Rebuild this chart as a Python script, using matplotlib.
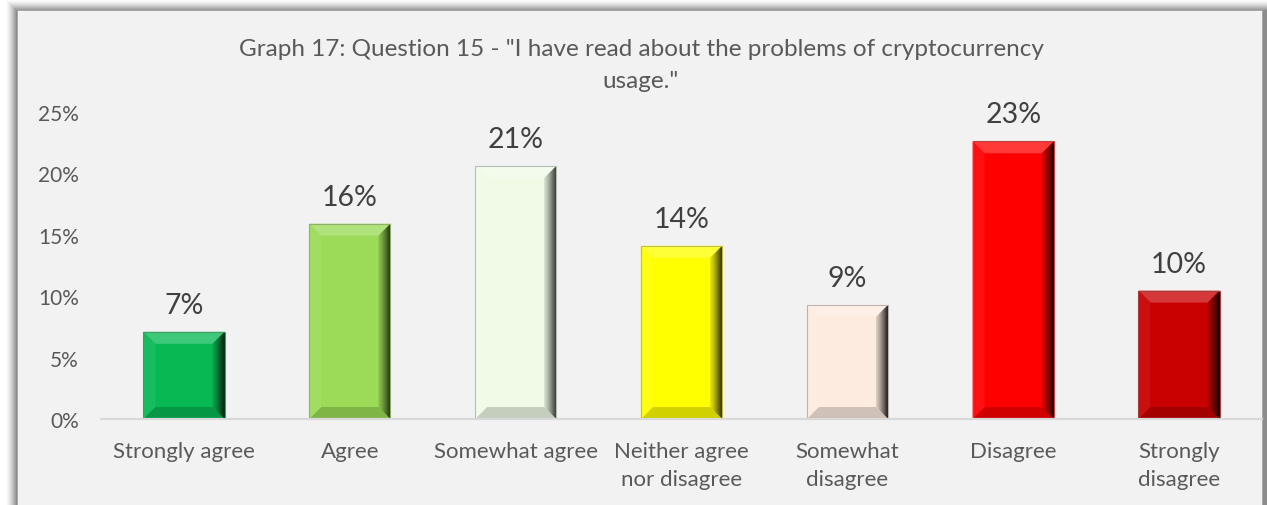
import matplotlib
matplotlib.use("Agg")
import matplotlib.pyplot as plt
import matplotlib.colors as mcolors
from matplotlib.patches import Rectangle, Polygon
import numpy as np

# Survey responses, share of respondents
categories = ["Strongly agree", "Agree", "Somewhat agree", "Neither agree\nnor disagree",
              "Somewhat\ndisagree", "Disagree", "Strongly\ndisagree"]
shares = [0.071, 0.159, 0.206, 0.141, 0.093, 0.226, 0.1045]
bar_colors = ["#07B853", "#9BDB57", "#F0FAE6", "#FFFF00", "#FDEBDF", "#FF0000", "#C80000"]
yticks = [0.00, 0.05, 0.10, 0.15, 0.20, 0.25]
title_lines = ['Graph 17: Question 15 - "I have read about the problems of cryptocurrency',
               'usage."']

W, H = 1267, 506
DPI = 100
plt.rcParams['font.family'] = ['Lato', 'DejaVu Sans']

fig = plt.figure(figsize=(W / DPI, H / DPI), dpi=DPI, facecolor="white")

def px_rect(x0, y0, x1, y1, color, z=0):
    # rectangle given in pixel coordinates measured from the top-left corner
    fig.patches.append(Rectangle((x0 / W, 1 - y1 / H), (x1 - x0) / W, (y1 - y0) / H,
                                 transform=fig.transFigure, facecolor=color,
                                 edgecolor="none", zorder=z))

# soft shadow around the chart frame
for i in range(12):
    t = i / 11
    g = 1 - 0.45 * t ** 1.5
    px_rect(5 + i, 0 + i, 1267, 506, (g, g, g), z=-10 + i * 0.01)
# frame
px_rect(17, 11, 1263, 506, "#A6A6A6", z=-5)
px_rect(18, 12, 1262, 506, "#F2F2F2", z=-4)

ax = fig.add_axes([101 / W, (H - 420) / H, (1262 - 101) / W, (420 - 112.8) / H])
ax.set_facecolor("none")

x = np.arange(len(categories))
bars = ax.bar(x, shares, width=0.49, color=bar_colors, edgecolor="none", zorder=2)

ax.set_xlim(-0.5, len(categories) - 0.5)
ax.set_ylim(0, 0.25)
ax.set_yticks(yticks)
ax.set_yticklabels([f"{v:.0%}" for v in yticks])
ax.set_xticks(x)
ax.set_xticklabels(categories, linespacing=1.5)
ax.tick_params(axis="y", length=0, pad=16, labelsize=15, labelcolor="#595959")
ax.tick_params(axis="x", length=0, pad=16, labelsize=16, labelcolor="#595959")
for s in ("top", "right", "left"):
    ax.spines[s].set_visible(False)
ax.spines["bottom"].set_color("#D9D9D9")
ax.spines["bottom"].set_linewidth(1.6)
ax.spines["bottom"].set_zorder(3)

# bevelled look on each bar, built from the drawn bar geometry
fig.canvas.draw()
inv = ax.transData.inverted()

def mix(c, other, a):
    c = np.array(mcolors.to_rgb(c))
    o = np.array(mcolors.to_rgb(other))
    return tuple(c * (1 - a) + o * a)

def poly(pts, color):
    data_pts = inv.transform(np.array(pts))
    ax.add_patch(Polygon(data_pts, closed=True, facecolor=color, edgecolor="none", zorder=2.5))

b = 12
for rect, c in zip(bars, bar_colors):
    (x0, y0), (x1, y1) = ax.transData.transform([(rect.get_x(), 0),
                                                 (rect.get_x() + rect.get_width(), rect.get_height())])
    # top face
    poly([(x0, y1), (x1, y1), (x1 - b, y1 - b), (x0 + b, y1 - b)], mix(c, "white", 0.22))
    # bottom face
    poly([(x0, y0), (x1, y0), (x1 - b, y0 + b), (x0 + b, y0 + b)], mix(c, "black", 0.18))
    # left face
    poly([(x0, y0), (x0 + b, y0 + b), (x0 + b, y1 - b), (x0, y1)], mix(c, "white", 0.06))
    # right face, shaded toward the edge
    n = 12
    for k in range(n):
        xa = x1 - b + b * k / n
        xb = x1 - b + b * (k + 1) / n + 0.3
        ya_b = y0 + b - b * k / n
        yb_b = y0 + b - b * (k + 1) / n
        ya_t = y1 - b + b * k / n
        yb_t = y1 - b + b * (k + 1) / n
        poly([(xa, ya_b), (xb, yb_b), (xb, yb_t), (xa, ya_t)],
             mix(c, "black", 0.1 + 0.75 * ((k + 1) / n) ** 1.3))
    # thin outline
    ax.add_patch(Rectangle((rect.get_x(), 0), rect.get_width(), rect.get_height(),
                           facecolor="none", edgecolor=mix(c, "gray", 0.5), linewidth=0.8, zorder=2.6))

# value labels
for xi, v in zip(x, shares):
    ax.annotate(f"{v:.0%}", (xi, v), xytext=(0, 10), textcoords="offset points",
                ha="center", va="bottom", fontsize=20.5, color="#404040")

# title
fig.text(641 / W, 1 - 50 / H, title_lines[0], ha="center", va="center", fontsize=17.5, color="#595959")
fig.text(641 / W, 1 - 82 / H, title_lines[1], ha="center", va="center", fontsize=17.5, color="#595959")

fig.savefig("out.png", dpi=DPI, facecolor="white")
